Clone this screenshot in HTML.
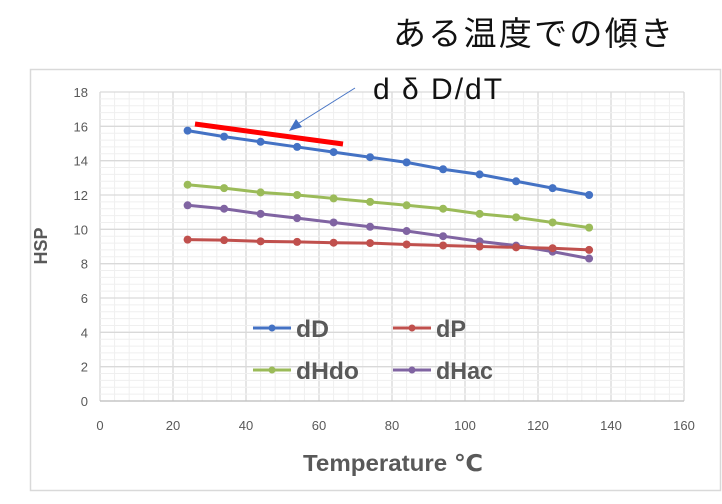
<!DOCTYPE html>
<html><head><meta charset="utf-8"><style>
html,body{margin:0;padding:0;background:#fff;}
svg{display:block;}
</style></head><body>
<svg width="722" height="504" viewBox="0 0 722 504" xmlns="http://www.w3.org/2000/svg">
<rect x="30.5" y="69.5" width="690" height="421" fill="#fff" stroke="#d9d9d9" stroke-width="1.5"/>
<g id="grid"></g>
<g id="series"></g>
<text x="393" y="45" font-family="'Liberation Sans','Noto Sans CJK JP',sans-serif" font-size="33" fill="#111" textLength="280">ある温度での傾き</text>
<text x="373" y="99" font-family="'Liberation Sans','DejaVu Sans',sans-serif" font-size="30" fill="#111" letter-spacing="2">d δ D/dT</text>
<line x1="355" y1="88" x2="296" y2="125" stroke="#4472c4" stroke-width="1"/>
<polygon points="289,131 296,119 302,127" fill="#4472c4"/>
<line x1="195" y1="124" x2="343" y2="144" stroke="#ff0000" stroke-width="5"/>
<g font-family="'Liberation Sans',sans-serif" font-size="13" fill="#595959" text-anchor="end" id="ylab"></g>
<g font-family="'Liberation Sans',sans-serif" font-size="13" fill="#595959" text-anchor="middle" id="xlab"></g>
<text transform="translate(47,246) rotate(-90)" text-anchor="middle" font-family="'Liberation Sans',sans-serif" font-weight="bold" font-size="18" fill="#595959">HSP</text>
<text x="303" y="471" font-family="'Liberation Sans','DejaVu Sans',sans-serif" font-weight="bold" font-size="23" fill="#595959" textLength="180" lengthAdjust="spacingAndGlyphs">Temperature ℃</text>
<g font-family="'Liberation Sans',sans-serif" font-weight="bold" font-size="24" fill="#595959">
<line x1="253" y1="328" x2="291" y2="328" stroke="#4472c4" stroke-width="3"/><circle cx="272" cy="328" r="3.5" fill="#4472c4"/><text x="296" y="337" textLength="33" lengthAdjust="spacingAndGlyphs">dD</text>
<line x1="393" y1="328" x2="431" y2="328" stroke="#c0504d" stroke-width="3"/><circle cx="412" cy="328" r="3.5" fill="#c0504d"/><text x="436" y="337" textLength="30" lengthAdjust="spacingAndGlyphs">dP</text>
<line x1="253" y1="370" x2="291" y2="370" stroke="#9bbb59" stroke-width="3"/><circle cx="272" cy="370" r="3.5" fill="#9bbb59"/><text x="296" y="379" textLength="63" lengthAdjust="spacingAndGlyphs">dHdo</text>
<line x1="393" y1="370" x2="431" y2="370" stroke="#8064a2" stroke-width="3"/><circle cx="412" cy="370" r="3.5" fill="#8064a2"/><text x="436" y="379" textLength="57" lengthAdjust="spacingAndGlyphs">dHac</text>
</g>
</svg>
<script>
const ns="http://www.w3.org/2000/svg";
const X=v=>100+v*584/160, Y=v=>401-v*309/18;
const g=document.getElementById('grid');
function ln(p,a,b,c,d,s,w){const l=document.createElementNS(ns,'line');l.setAttribute('x1',a);l.setAttribute('y1',b);l.setAttribute('x2',c);l.setAttribute('y2',d);l.setAttribute('stroke',s);l.setAttribute('stroke-width',w);p.appendChild(l);}
for(let v=0;v<=160;v+=4){ln(g,X(v),Y(18),X(v),Y(0),v%20?'#efefef':'#d9d9d9',v%20?1:1.3);}
for(let v=0;v<=18;v+=0.4){const r=Math.round(v*10)/10;ln(g,X(0),Y(r),X(160),Y(r),(r%2)?'#efefef':'#d9d9d9',(r%2)?1:1.3);}
ln(g,X(0),Y(0),X(160),Y(0),'#bfbfbf',1.3);
const yl=document.getElementById('ylab');for(let v=0;v<=18;v+=2){const t=document.createElementNS(ns,'text');t.setAttribute('x',88);t.setAttribute('y',Y(v)+5);t.textContent=v;yl.appendChild(t);}
const xl=document.getElementById('xlab');for(let v=0;v<=160;v+=20){const t=document.createElementNS(ns,'text');t.setAttribute('x',X(v));t.setAttribute('y',430);t.textContent=v;xl.appendChild(t);}
const xs=[24,34,44,54,64,74,84,94,104,114,124,134];
const data=[['#9bbb59',[12.6,12.4,12.15,12.0,11.8,11.6,11.4,11.2,10.9,10.7,10.4,10.1]],
['#8064a2',[11.4,11.2,10.9,10.65,10.4,10.15,9.9,9.6,9.3,9.05,8.7,8.3]],
['#c0504d',[9.4,9.37,9.3,9.27,9.22,9.2,9.12,9.06,9.0,8.95,8.9,8.8]],
['#4472c4',[15.75,15.4,15.1,14.8,14.5,14.2,13.9,13.5,13.2,12.8,12.4,12.0]]];
const s=document.getElementById('series');
data.forEach(([c,v])=>{const p=document.createElementNS(ns,'polyline');p.setAttribute('points',xs.map((x,i)=>X(x)+','+Y(v[i])).join(' '));p.setAttribute('fill','none');p.setAttribute('stroke',c);p.setAttribute('stroke-width',3);s.appendChild(p);
xs.forEach((x,i)=>{const e=document.createElementNS(ns,'circle');e.setAttribute('cx',X(x));e.setAttribute('cy',Y(v[i]));e.setAttribute('r',4);e.setAttribute('fill',c);s.appendChild(e);});});
</script>
</body></html>
